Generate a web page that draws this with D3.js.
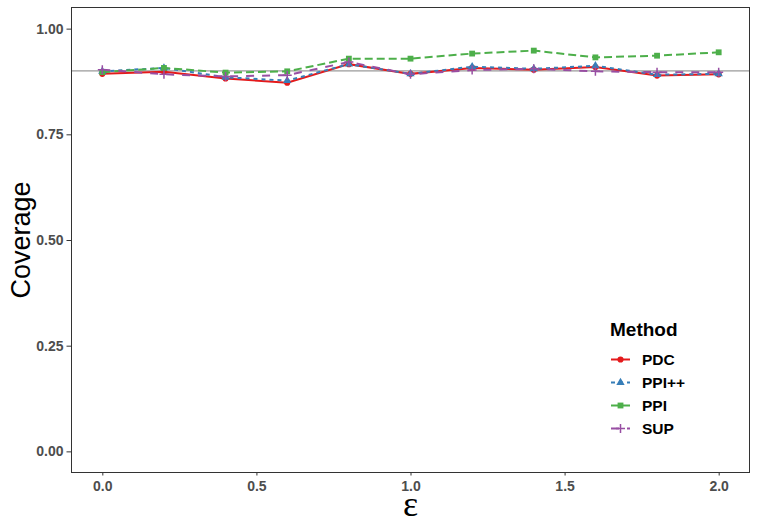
<!DOCTYPE html>
<html>
<head>
<meta charset="utf-8">
<title>Coverage by epsilon</title>
<script src="https://d3js.org/d3.v7.min.js"></script>
<style>
  body { margin: 0; background: #fff; }
  svg { display: block; }
  .axis text { font-family: "Liberation Sans", Arial, sans-serif; font-weight: bold; font-size: 14px; fill: #4d4d4d; }
  .axis line { stroke: #333; }
  .axis path { display: none; }
  .line { fill: none; stroke-width: 2; }
</style>
</head>
<body>
<svg id="chart" width="757" height="532"></svg>
<script>
// values
var eps = [0, 0.2, 0.4, 0.6, 0.8, 1.0, 1.2, 1.4, 1.6, 1.8, 2.0];
var methods = ["PDC", "PPI++", "PPI", "SUP"];
var pdc   = [0.893, 0.898, 0.882, 0.872, 0.916, 0.893, 0.907, 0.903, 0.909, 0.889, 0.892];
var ppipp = [0.899, 0.907, 0.885, 0.877, 0.916, 0.893, 0.910, 0.905, 0.912, 0.891, 0.893];
var ppi   = [0.897, 0.907, 0.896, 0.899, 0.929, 0.929, 0.941, 0.948, 0.932, 0.936, 0.944];
var sup   = [0.903, 0.892, 0.887, 0.890, 0.921, 0.892, 0.902, 0.905, 0.899, 0.897, 0.897];
var xTicks = [0, 0.5, 1, 1.5, 2];
var yTicks = [0, 0.25, 0.5, 0.75, 1];
var target = 0.9;

var series = [pdc, ppipp, ppi, sup];
var colors = ["#E41A1C", "#377EB8", "#4DAF4A", "#984EA3"];
var dashes = [null, "4,4", "8,4", "8,8"];

var svg = d3.select("#chart");
var pLeft = 71.5, pRight = 749.5, pTop = 7.5, pBottom = 472.5;

var x = d3.scaleLinear().domain([-0.1, 2.1]).range([pLeft, pRight]);
var y = d3.scaleLinear().domain([-0.05, 1.05]).range([pBottom, pTop]);

// axes
svg.append("g")
    .attr("class", "axis")
    .attr("transform", "translate(" + pLeft + ",0)")
    .call(d3.axisLeft(y).tickValues(yTicks).tickFormat(d3.format(".2f")).tickSize(5).tickPadding(3));

svg.append("g")
    .attr("class", "axis")
    .attr("transform", "translate(0," + pBottom + ")")
    .call(d3.axisBottom(x).tickValues(xTicks).tickFormat(d3.format(".1f")).tickSize(3).tickPadding(6));

// target line
svg.append("line")
    .attr("x1", pLeft).attr("x2", pRight)
    .attr("y1", y(target)).attr("y2", y(target))
    .attr("stroke", "#808080").attr("stroke-width", 1);

var line = d3.line()
    .x(function (d, i) { return x(eps[i]); })
    .y(function (d) { return y(d); });

series.forEach(function (s, k) {
    svg.append("path")
        .attr("class", "line")
        .attr("d", line(s))
        .style("stroke", colors[k])
        .style("stroke-dasharray", dashes[k]);
});

// point shapes: circle, triangle, square, plus
var shapes = [
    d3.symbol().type(d3.symbolCircle).size(30),
    d3.symbol().type(d3.symbolTriangle).size(30),
    d3.symbol().type(d3.symbolSquare).size(34),
    null
];

function drawPoint(g, k, px, py) {
    if (k == 3) {
        g.append("path")
            .attr("d", "M" + (px - 4.5) + "," + py + "H" + (px + 4.5) + "M" + px + "," + (py - 4.5) + "V" + (py + 4.5))
            .attr("stroke", colors[k]).attr("stroke-width", 1.5).attr("fill", "none");
    } else {
        g.append("path")
            .attr("d", shapes[k]())
            .attr("transform", "translate(" + px + "," + py + ")")
            .attr("fill", colors[k]);
    }
}

var pts = svg.append("g");
series.forEach(function (s, k) {
    s.forEach(function (v, i) {
        drawPoint(pts, k, x(eps[i]), y(v));
    });
});

// border
svg.append("rect")
    .attr("x", pLeft).attr("y", pTop)
    .attr("width", pRight - pLeft).attr("height", pBottom - pTop)
    .attr("fill", "none").attr("stroke", "#333").attr("stroke-width", 1);

// axis titles
svg.append("text")
    .attr("transform", "translate(30," + ((pTop + pBottom) / 2) + ") rotate(-90)")
    .attr("text-anchor", "middle")
    .style("font-family", "Liberation Sans, Arial, sans-serif")
    .style("font-size", "27px")
    .text("Coverage");

svg.append("text")
    .attr("x", (pLeft + pRight) / 2).attr("y", 516)
    .attr("text-anchor", "middle")
    .style("font-family", "Liberation Serif, serif")
    .style("font-size", "36px")
    .text("ε");

// legend
var legend = svg.append("g");
legend.append("text")
    .attr("x", 610).attr("y", 336)
    .style("font-family", "Liberation Sans, Arial, sans-serif")
    .style("font-weight", "bold")
    .style("font-size", "19px")
    .text("Method");

methods.forEach(function (m, k) {
    var ky = 359.5 + k * 23;
    legend.append("line")
        .attr("x1", 611).attr("x2", 630)
        .attr("y1", ky).attr("y2", ky)
        .attr("stroke", colors[k]).attr("stroke-width", 2)
        .attr("stroke-dasharray", dashes[k]);
    drawPoint(legend, k, 620.5, ky);
    legend.append("text")
        .attr("x", 642).attr("y", ky)
        .attr("dy", "0.36em")
        .style("font-family", "Liberation Sans, Arial, sans-serif")
        .style("font-weight", "bold")
        .style("font-size", "15.5px")
        .text(m);
});
</script>
</body>
</html>
